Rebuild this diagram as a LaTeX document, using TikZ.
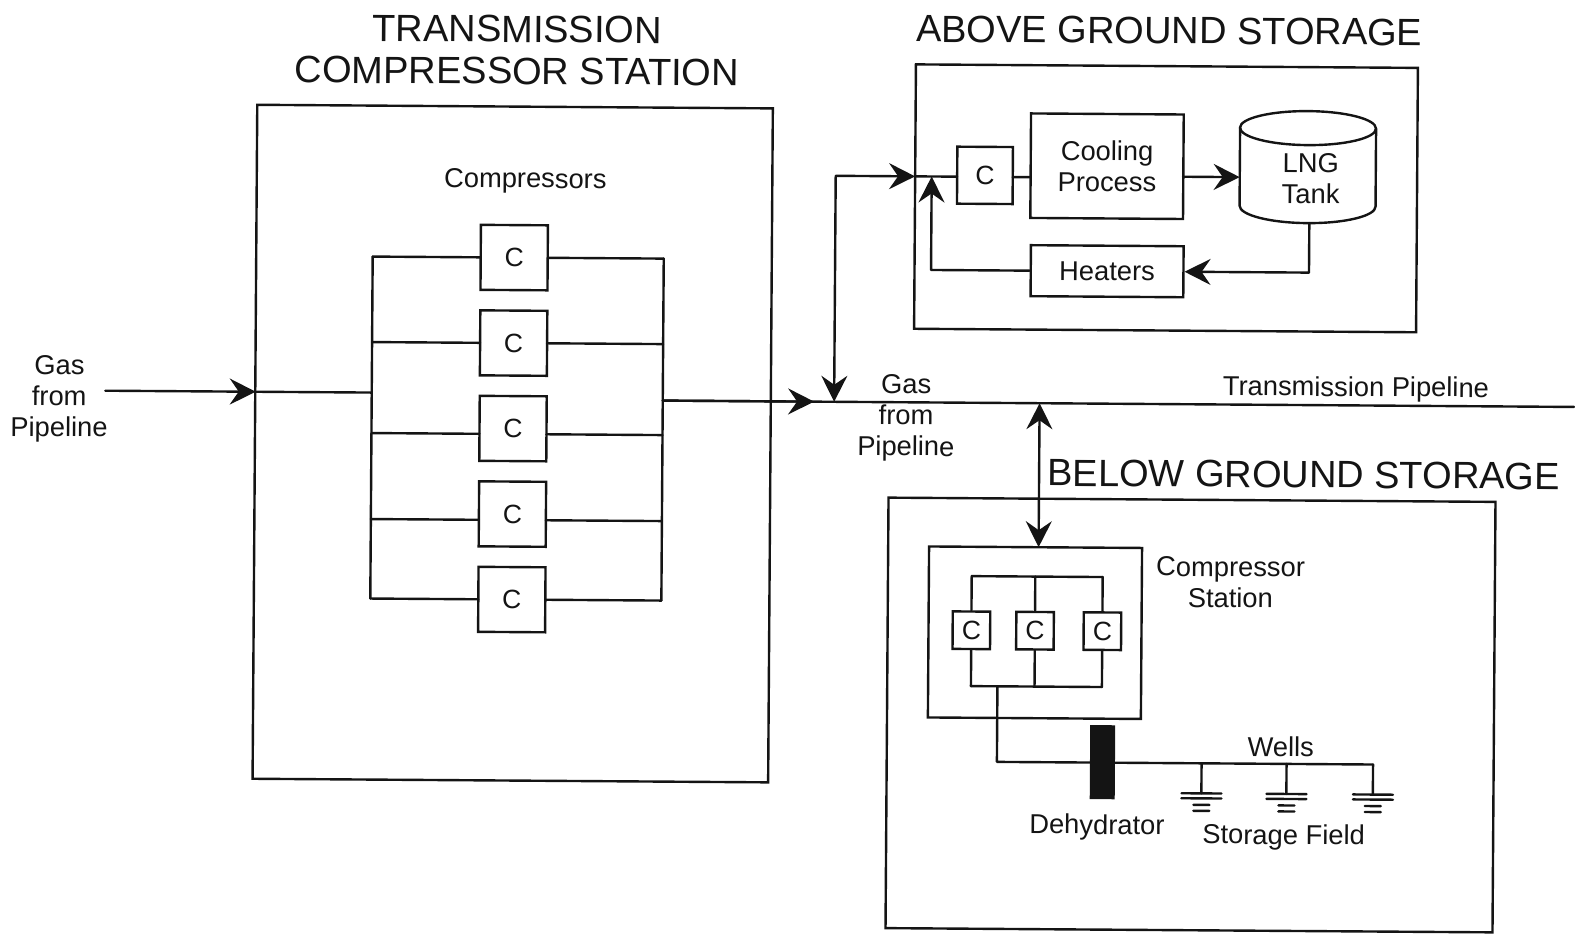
\documentclass[tikz,border=0pt]{standalone}
\usepackage{fontspec}
\setmainfont{Liberation Sans}
\usetikzlibrary{arrows.meta}
\definecolor{ink}{HTML}{141414}
\tikzset{
  line/.style={draw=ink,line width=2.4pt,line cap=round,line join=round},
  frame/.style={draw=ink,line width=2.4pt,rectangle,inner sep=0pt},
  arr/.style={line,-{Stealth[length=26pt,width=26pt,inset=9pt]}},
  arrboth/.style={line,{Stealth[length=26pt,width=26pt,inset=9pt]}-{Stealth[length=26pt,width=26pt,inset=9pt]}},
  lbl/.style={text=ink,font=\fontsize{27.3pt}{31pt}\selectfont,align=center,inner sep=0pt},
  ttl/.style={text=ink,font=\fontsize{38pt}{42pt}\selectfont,align=center,inner sep=0pt},
  cbox/.style={frame,text=ink,font=\fontsize{26.5pt}{31pt}\selectfont,minimum width=67pt,minimum height=65pt},
  sbox/.style={frame,text=ink,font=\fontsize{26.5pt}{31pt}\selectfont,minimum width=37.5pt,minimum height=37.5pt},
}
\begin{document}
\begin{tikzpicture}[x=1pt,y=-1pt]
\useasboundingbox (0,0) rectangle (1575,934);
\begin{scope}[rotate=-0.4,transform shape]
% titles
\node[ttl] (t1) at (517.5,46.5) {TRANSMISSION\\COMPRESSOR STATION};
\node[ttl] (t2) at (1169.6,22.5) {ABOVE GROUND STORAGE};
\node[ttl] (t3) at (1307,465.5) {BELOW GROUND STORAGE};
% transmission station
\node[frame,minimum width=515.6pt,minimum height=674pt] (trans) at (515.8,440) {};
\node[lbl] (complbl) at (526.6,177.5) {Compressors};
\foreach \i/\y/\s in {1/254/0,2/339.5/0,3/425/5.5,4/510.5/6,5/596/0}{
  \node[cbox] (c\i) at (516,\y) {C};
  \coordinate (lb\i) at (374.5,\y+\s);
  \coordinate (rb\i) at (665.6,\y+\s);
  \coordinate (cl\i) at (482.5,\y+\s);
  \coordinate (cr\i) at (549.5,\y+\s);
  \draw[line] (lb\i) -- (cl\i);
  \draw[line] (cr\i) -- (rb\i);
}
\draw[line] (lb1) -- (lb5);
\draw[line] (rb1) -- (rb5);
\node[lbl] (gasl) at (62,398.6) {Gas\\from\\Pipeline};
\coordinate (gasin) at (108,390);
\coordinate (gasfr) at (258.5,390);
\coordinate (gasbus) at (374.5,390);
\draw[arr] (gasin) -- (gasfr);
\draw[line] (gasfr) -- (gasbus);
% pipeline
\coordinate (outb) at (665.6,396);
\coordinate (outtip) at (817,396);
\coordinate (pipeend) at (1577,396);
\draw[line] (outb) -- (pipeend);
\draw[arr] (outb) -- (outtip);
\node[lbl] (gasm) at (909,411.8) {Gas\\from\\Pipeline};
\node[lbl] (tplbl) at (1358.7,379.8) {Transmission Pipeline};
% above ground
\node[frame,minimum width=502pt,minimum height=264.4pt] (above) at (1167.4,190.2) {};
\coordinate (aj) at (837,396);
\coordinate (ac) at (837,170);
\coordinate (ain) at (916.4,170);
\draw[arrboth] (aj) -- (ac) -- (ain);
\node[frame,text=ink,font=\fontsize{26.5pt}{31pt}\selectfont,minimum width=55.6pt,minimum height=57pt] (ca) at (986.2,168.5) {C};
\node[frame,lbl,draw=ink,minimum width=152.7pt,minimum height=104.5pt] (cool) at (1108.2,158.5) {Cooling\\Process};
\node[frame,lbl,draw=ink,minimum width=152.7pt,minimum height=51pt] (heat) at (1109,263.5) {Heaters};
\coordinate (cain) at (958.4,170);
\draw[line] (ain) -- (cain);
\coordinate (caout) at (1014,170);
\coordinate (coolin) at (1031.9,170);
\draw[line] (caout) -- (coolin);
% LNG tank
\coordinate (tanktop) at (1309,119);
\draw[line] (tanktop) ellipse [x radius=68pt,y radius=17pt];
\draw[line] (1241,119) -- (1241,197) arc [start angle=180,end angle=360,x radius=68pt,y radius=17pt] -- (1377,119);
\node[lbl] (tank) at (1312,169.5) {LNG\\Tank};
\coordinate (tankl) at (1241,168.5);
\coordinate (coolout) at (1184.5,168.5);
\draw[arr] (coolout) -- (tankl);
\coordinate (tankb) at (1311,214);
\coordinate (tankc) at (1311,263.5);
\draw[arr] (tankb) -- (tankc) -- (heat.east);
\coordinate (retc) at (933,263.5);
\coordinate (rettip) at (933,170);
\draw[arr] (heat.west) -- (retc) -- (rettip);
% below ground
\node[frame,minimum width=607pt,minimum height=430.5pt] (below) at (1195.5,706.7) {};
\node[frame,minimum width=213pt,minimum height=171pt] (stat) at (1039.4,625.5) {};
\coordinate (bj) at (1042.5,396);
\coordinate (bi) at (1042.5,540);
\draw[arrboth] (bj) -- (bi);
\node[lbl] (statlbl) at (1234.6,574) {Compressor\\Station};
\foreach \i/\x in {1/975.8,2/1039.4,3/1106.8}{
  \node[sbox] (s\i) at (\x,623.5) {C};
  \coordinate (st\i) at (\x,569.4);
  \coordinate (sb\i) at (\x,679.4);
  \draw[line] (st\i) -- (s\i.north);
  \draw[line] (s\i.south) -- (sb\i);
}
\draw[line] (st1) -- (st3);
\draw[line] (sb1) -- (sb3);
\coordinate (so) at (1002.3,679.4);
\coordinate (sc) at (1002.3,755);
\node[fill=ink,draw=none,inner sep=0pt,minimum width=25pt,minimum height=74pt] (dehy) at (1107.8,754.5) {};
\coordinate (dl) at (1095.3,755);
\draw[line] (so) -- (sc) -- (dl);
\coordinate (we) at (1378.5,755);
\coordinate (dr) at (1120.3,755);
\draw[line] (dr) -- (we);
\node[lbl] (dehylbl) at (1102.7,819.5) {Dehydrator};
\node[lbl] (wells) at (1286,738) {Wells};
\node[lbl] (field) at (1289.5,828.3) {Storage Field};
\foreach \i/\x in {1/1207,2/1292,3/1378.5}{
  \coordinate (wt\i) at (\x,755);
  \coordinate (wb\i) at (\x,785);
  \draw[line] (wt\i) -- (wb\i);
  \draw[line] (\x-20,785) -- (\x+20,785);
  \draw[line] (\x-20,790) -- (\x+20,790);
  \draw[line] (\x-8,796.5) -- (\x+8,796.5);
  \draw[line] (\x-8,802.5) -- (\x+8,802.5);
}
\end{scope}
\end{tikzpicture}
\end{document}
